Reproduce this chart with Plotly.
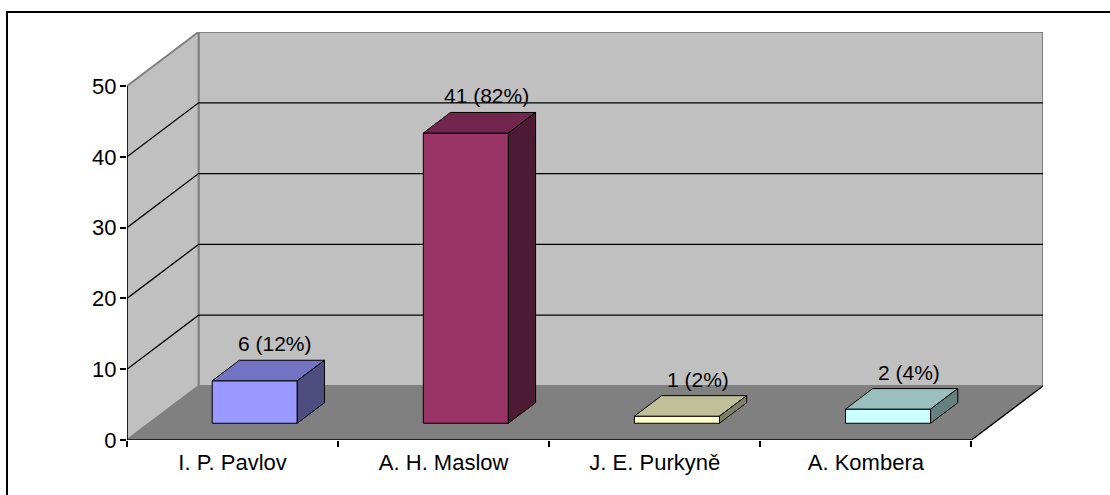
import plotly.graph_objects as go

# Survey answers: who is the author of the hierarchy of needs?
categories = ["I. P. Pavlov", "A. H. Maslow", "J. E. Purkyně", "A. Kombera"]
counts = [6, 41, 1, 2]
total_respondents = 50
y_ticks = [0, 10, 20, 30, 40, 50]
y_max = 50

# Face colours of each column: front, top, side
front_colors = ["#9999FF", "#993366", "#FFFFCC", "#CCFFFF"]
top_colors = ["#7373C4", "#73264D", "#BFBF99", "#99BFBF"]
side_colors = ["#4D4D80", "#4D1A33", "#808066", "#668080"]

# Oblique projection used to fake the 3-D look (depth offset in axis units)
DEPTH_X = 0.339
DEPTH_Y = 7.63
BAR_WIDTH = 0.403
BAR_D0, BAR_D1 = 0.31, 0.69

FONT = "Liberation Sans, Arial, sans-serif"
n = len(categories)

fig = go.Figure()


def poly(xs, ys, fill, line_color="black", line_width=1):
    fig.add_trace(go.Scatter(
        x=list(xs) + [xs[0]], y=list(ys) + [ys[0]], mode="lines", fill="toself",
        fillcolor=fill, line=dict(color=line_color, width=line_width),
        hoverinfo="skip", showlegend=False))


def seg(xs, ys, color="black", width=1.3):
    fig.add_trace(go.Scatter(
        x=xs, y=ys, mode="lines", line=dict(color=color, width=width),
        hoverinfo="skip", showlegend=False))


# Walls and floor
poly([DEPTH_X, DEPTH_X, n + DEPTH_X, n + DEPTH_X],
     [DEPTH_Y, y_max + DEPTH_Y, y_max + DEPTH_Y, DEPTH_Y], "#C0C0C0", "#808080", 2)
poly([0, 0, DEPTH_X, DEPTH_X], [0, y_max, y_max + DEPTH_Y, DEPTH_Y],
     "#C0C0C0", "#808080", 2)

# Gridlines across side and back wall
for v in y_ticks[1:-1]:
    seg([0, DEPTH_X, n + DEPTH_X], [v, v + DEPTH_Y, v + DEPTH_Y])

poly([0, n, n + DEPTH_X, DEPTH_X], [0, 0, DEPTH_Y, DEPTH_Y], "#808080", "#808080", 1)
seg([n, n + DEPTH_X], [0, DEPTH_Y], "black", 1.3)
seg([0, n], [0, 0], "black", 1.5)
seg([0, 0], [0, y_max], "black", 1.5)

# Columns
dx = (BAR_D1 - BAR_D0) * DEPTH_X
dy = (BAR_D1 - BAR_D0) * DEPTH_Y
for i, v in enumerate(counts):
    xl = i + 0.5 - BAR_WIDTH / 2 + BAR_D0 * DEPTH_X
    xr = xl + BAR_WIDTH
    yb = BAR_D0 * DEPTH_Y
    yt = yb + v
    poly([xl, xr, xr, xl], [yb, yb, yt, yt], front_colors[i])
    poly([xl, xr, xr + dx, xl + dx], [yt, yt, yt + dy, yt + dy], top_colors[i])
    poly([xr, xr + dx, xr + dx, xr], [yb, yb + dy, yt + dy, yt], side_colors[i])
    pct = round(v / total_respondents * 100)
    fig.add_annotation(
        x=i + 0.5 + 0.6 * DEPTH_X, y=yt + dy, text=f"{v} ({pct}%)",
        showarrow=False, xanchor="center", yanchor="bottom", yshift=3,
        font=dict(family=FONT, size=21, color="black"))

# Outer chart border
fig.add_shape(type="rect", xref="paper", yref="paper",
              x0=-0.131, x1=1.1, y0=-0.2, y1=1.049,
              line=dict(color="black", width=2), fillcolor="rgba(0,0,0,0)")

fig.update_layout(
    width=1110, height=495,
    margin=dict(l=127, r=67, t=32, b=55),
    paper_bgcolor="white", plot_bgcolor="white",
    showlegend=False,
    font=dict(family=FONT, size=21, color="black"),
    xaxis=dict(range=[0, n + DEPTH_X], tickvals=[i + 0.5 for i in range(n)],
               ticktext=categories, ticks="", showgrid=False, zeroline=False,
               showline=False, ticklabelstandoff=7, fixedrange=True,
               tickfont=dict(size=22)),
    xaxis2=dict(range=[0, n + DEPTH_X], overlaying="x", side="bottom",
                tickvals=list(range(n + 1)), ticks="outside", ticklen=6,
                tickcolor="black", tickwidth=1.5, showticklabels=False,
                showgrid=False, zeroline=False, showline=False, fixedrange=True),
    yaxis=dict(range=[0, y_max + DEPTH_Y], tickvals=y_ticks, ticks="outside",
               ticklen=6, tickcolor="black", tickwidth=1.5, showgrid=False,
               zeroline=False, showline=False, ticklabelstandoff=-1, fixedrange=True,
               tickfont=dict(size=22)),
)
# empty trace so the boundary-tick axis is drawn
fig.add_trace(go.Scatter(x=[], y=[], xaxis="x2", yaxis="y", showlegend=False))

fig.write_html("out.html")
